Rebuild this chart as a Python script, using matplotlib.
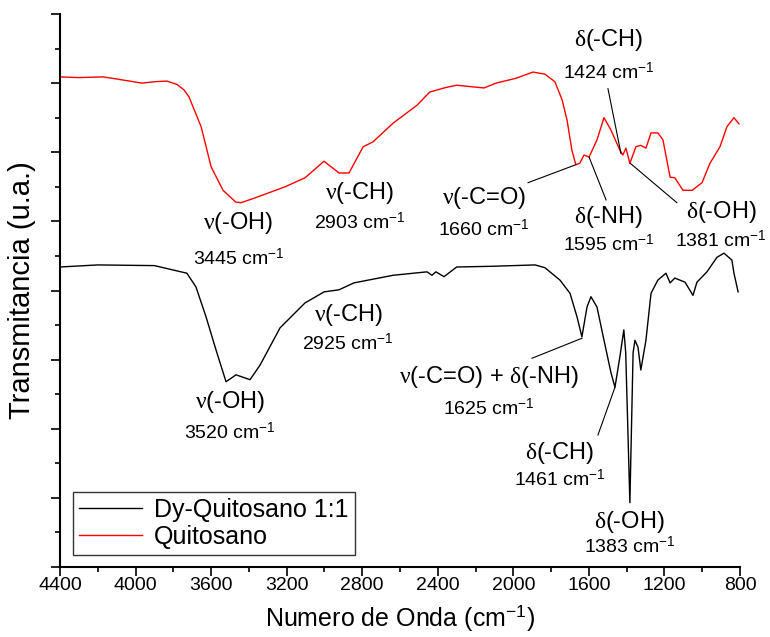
import matplotlib
matplotlib.use("Agg")
import matplotlib.pyplot as plt
from matplotlib.ticker import MultipleLocator, NullFormatter

plt.rcParams["font.family"] = ["Liberation Sans", "DejaVu Sans"]
plt.rcParams["mathtext.fontset"] = "custom"
plt.rcParams["mathtext.rm"] = "Liberation Sans"
plt.rcParams["mathtext.it"] = "Liberation Serif"

# Quitosano (red), wavenumber vs transmittance (arb. units)
red_wn = [4400, 4300, 4172, 4100, 3966, 3900, 3834, 3780, 3743, 3717, 3653, 3600,
          3537, 3470, 3442, 3367, 3209, 3103, 3002, 2923, 2870, 2795, 2743, 2637,
          2510, 2443, 2367, 2300, 2155, 2092, 1986, 1896, 1833, 1780, 1742, 1716,
          1690, 1669, 1648, 1626, 1599, 1557, 1520, 1483, 1436, 1420, 1404, 1383,
          1351, 1325, 1298, 1271, 1235, 1208, 1170, 1145, 1102, 1053, 1001, 959,
          906, 869, 832, 805]
red_y = [7.09, 7.08, 7.09, 7.06, 7.00, 7.02, 7.03, 6.98, 6.90, 6.80, 6.37, 5.79,
         5.45, 5.28, 5.27, 5.34, 5.50, 5.63, 5.87, 5.70, 5.70, 6.08, 6.15, 6.42,
         6.68, 6.87, 6.93, 6.97, 6.93, 7.00, 7.07, 7.16, 7.13, 7.02, 6.76, 6.47,
         6.03, 5.82, 5.84, 5.96, 5.93, 6.18, 6.50, 6.32, 6.03, 5.96, 6.06, 5.84,
         6.08, 6.10, 6.06, 6.28, 6.28, 6.18, 5.64, 5.63, 5.45, 5.45, 5.56, 5.84,
         6.08, 6.37, 6.50, 6.41]

# Dy-Quitosano 1:1 (black)
black_wn = [4400, 4200, 3900, 3728, 3680, 3627, 3574, 3521, 3468, 3394, 3341, 3235,
            3103, 3002, 2923, 2844, 2637, 2457, 2431, 2410, 2367, 2300, 2118, 1885,
            1833, 1753, 1700, 1663, 1637, 1610, 1589, 1557, 1520, 1483, 1462, 1436,
            1415, 1405, 1383, 1366, 1356, 1340, 1325, 1298, 1271, 1235, 1192, 1170,
            1145, 1091, 1049, 1028, 975, 922, 885, 843, 832, 810]
black_y = [4.34, 4.37, 4.36, 4.25, 4.05, 3.62, 3.14, 2.68, 2.78, 2.71, 2.92, 3.46,
           3.82, 3.98, 4.01, 4.11, 4.22, 4.27, 4.22, 4.27, 4.20, 4.34, 4.35, 4.37,
           4.33, 4.15, 3.96, 3.62, 3.33, 3.76, 3.91, 3.76, 3.28, 2.81, 2.60, 3.04,
           3.43, 3.10, 0.93, 3.10, 3.28, 3.18, 2.85, 3.28, 3.96, 4.15, 4.25, 4.11,
           4.18, 4.12, 3.93, 4.12, 4.27, 4.48, 4.54, 4.44, 4.25, 3.98]

# band labels: (label, band, x, y_label, y_number, leader line or None)
bands = [
    (r"$\nu$(-OH)", "3445", 3455, 4.98, 4.47, None),
    (r"$\nu$(-CH)", "2903", 2812, 5.41, 4.99, None),
    (r"$\nu$(-C=O)", "1660", 2155, 5.34, 4.88, ((1922, 5.56), (1669, 5.82))),
    (r"$\delta$(-NH)", "1595", 1495, 5.06, 4.66, ((1509, 5.31), (1599, 5.93))),
    (r"$\delta$(-CH)", "1424", 1495, 7.62, 7.16, ((1499, 6.92), (1430, 5.98))),
    (r"$\delta$(-OH)", "1381", 900, 5.14, 4.73, ((1134, 5.27), (1381, 5.84))),
    (r"$\nu$(-CH)", "2925", 2875, 3.65, 3.24, None),
    (r"$\nu$(-OH)", "3520", 3500, 2.39, 1.95, None),
    (r"$\nu$(-C=O) + $\delta$(-NH)", "1625", 2130, 2.75, 2.30, ((1901, 3.02), (1636, 3.31))),
    (r"$\delta$(-CH)", "1461", 1756, 1.65, 1.26, ((1552, 1.91), (1462, 2.60))),
    (r"$\delta$(-OH)", "1383", 1383, 0.65, 0.29, None),
]

fig = plt.figure(figsize=(7.7, 6.37), dpi=100)
ax = fig.add_axes([60 / 770, 1 - 567 / 637, 680 / 770, 553 / 637])

ax.plot(black_wn, black_y, color="black", lw=1.0, label="Dy-Quitosano 1:1")
ax.plot(red_wn, red_y, color="red", lw=1.0, label="Quitosano")

for lab, num, x, yl, yn, line in bands:
    ax.text(x, yl, lab, ha="center", va="center", fontsize=17)
    ax.text(x, yn, num + r" cm$^{-1}$", ha="center", va="center", fontsize=14)
    if line is not None:
        (x1, y1), (x2, y2) = line
        ax.plot([x1, x2], [y1, y2], color="black", lw=0.8)

ax.set_xlim(4400, 800)
ax.set_ylim(0, 8)
ax.xaxis.set_major_locator(MultipleLocator(400))
ax.xaxis.set_minor_locator(MultipleLocator(200))
ax.yaxis.set_major_locator(MultipleLocator(1))
ax.yaxis.set_minor_locator(MultipleLocator(0.5))
ax.yaxis.set_major_formatter(NullFormatter())

for side in ["top", "right"]:
    ax.spines[side].set_visible(False)
for side in ["left", "bottom"]:
    ax.spines[side].set_linewidth(1.5)
ax.tick_params(which="major", direction="out", length=6.5, width=1.2, labelsize=14, pad=1)
ax.tick_params(which="minor", direction="out", length=3.5, width=1.2)

ax.set_xlabel(r"Numero de Onda (cm$^{-1}$)", fontsize=18, labelpad=6)
ax.set_ylabel("Transmitancia (u.a.)", fontsize=21, labelpad=10)

leg = ax.legend(loc="lower left", bbox_to_anchor=(0.019, 0.022), borderaxespad=0,
                fontsize=18, frameon=True, fancybox=False, handlelength=2.5,
                handletextpad=0.5, borderpad=0.25, labelspacing=0.1)
leg.get_frame().set_edgecolor("black")
leg.get_frame().set_linewidth(1.0)

fig.savefig("out.png", dpi=100)
